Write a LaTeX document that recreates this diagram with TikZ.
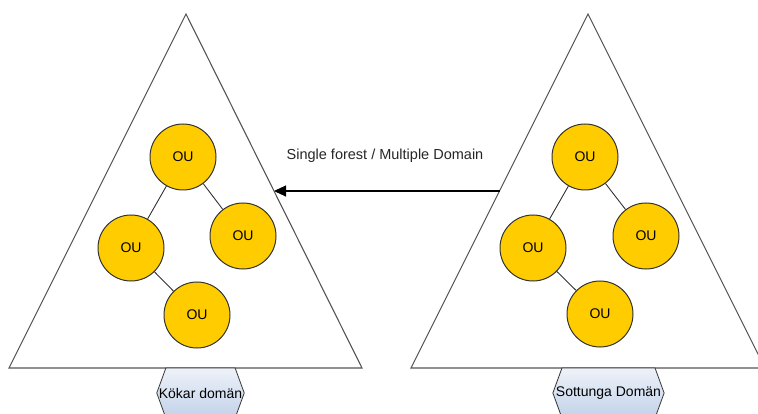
\documentclass[tikz,border=0pt]{standalone}
\usepackage{fontspec}
\setmainfont{Liberation Sans}
\usepackage{xcolor}
\usepackage{tikz}
\usetikzlibrary{arrows.meta,positioning,shapes.symbols,calc}
\definecolor{ougold}{HTML}{FFCC00}
\definecolor{bk80}{HTML}{333333}
\definecolor{bk60}{HTML}{555555}
\definecolor{hextop}{HTML}{EEF2F9}
\definecolor{hexbot}{HTML}{C2D2E9}
\tikzset{
  oubox/.style={
    circle, draw=bk80, fill=ougold, line width=1pt,
    minimum size=66pt, inner sep=0pt,
    font=\fontsize{14}{16}\selectfont
  },
  domaintag/.style={
    signal, signal to=west and east, signal pointer angle=140,
    draw=bk80, line width=0.8pt, top color=hextop, bottom color=hexbot,
    minimum width=0pt, minimum height=50pt, inner ysep=0pt, inner xsep=#1,
    font=\fontsize{14}{16}\selectfont
  },
  domaintag/.default=-7pt,
  treeedge/.style={draw=bk80, line width=0.9pt},
  forestside/.style={draw=bk60, line width=1.1pt},
  forestarrow/.style={-{Triangle[length=12pt,width=11pt]}, line width=1.1pt, color=black},
  labelnode/.style={font=\fontsize{14.5}{16}\selectfont, color=black!85},
}

\begin{document}
\begin{tikzpicture}[x=1pt,y=-1pt]
  \useasboundingbox (0,0) rectangle (758,414);
  % domain triangles
  \draw[forestside] (186,14) coordinate (kTop) -- (362,368) coordinate (kRight)
    -- (9,368) coordinate (kLeft) -- cycle;
  \draw[forestside] (588,14) coordinate (sTop) -- (765,368) coordinate (sRight)
    -- (411,368) coordinate (sLeft) -- cycle;
  \coordinate (kMid) at ($(kTop)!0.5!(kRight)$);
  \coordinate (sMid) at ($(sTop)!0.5!(sLeft)$);
  % Kokar OUs
  \node[oubox] (k1) at (183,157) {OU};
  \node[oubox] (k2) at (131,248) {OU};
  \node[oubox] (k3) at (243,236) {OU};
  \node[oubox] (k4) at (197,315) {OU};
  \draw[treeedge] (k1) -- (k2);
  \draw[treeedge] (k1) -- (k3);
  \draw[treeedge] (k2) -- (k4);
  % Sottunga OUs
  \node[oubox] (s1) at (585,157) {OU};
  \node[oubox] (s2) at (533,248) {OU};
  \node[oubox] (s3) at (646,236) {OU};
  \node[oubox] (s4) at (600,314) {OU};
  \draw[treeedge] (s1) -- (s2);
  \draw[treeedge] (s1) -- (s3);
  \draw[treeedge] (s2) -- (s4);
  % trust arrow
  \draw[forestarrow] (sMid) -- (kMid);
  \node[labelnode] (trust) at (385,156) {Single forest / Multiple Domain};
  % domain names
  \node[domaintag] (kname) at (200.5,393) {Kökar domän};
  \node[domaintag=-6pt] (sname) at (608.5,393) {Sottunga Domän};
\end{tikzpicture}
\end{document}
